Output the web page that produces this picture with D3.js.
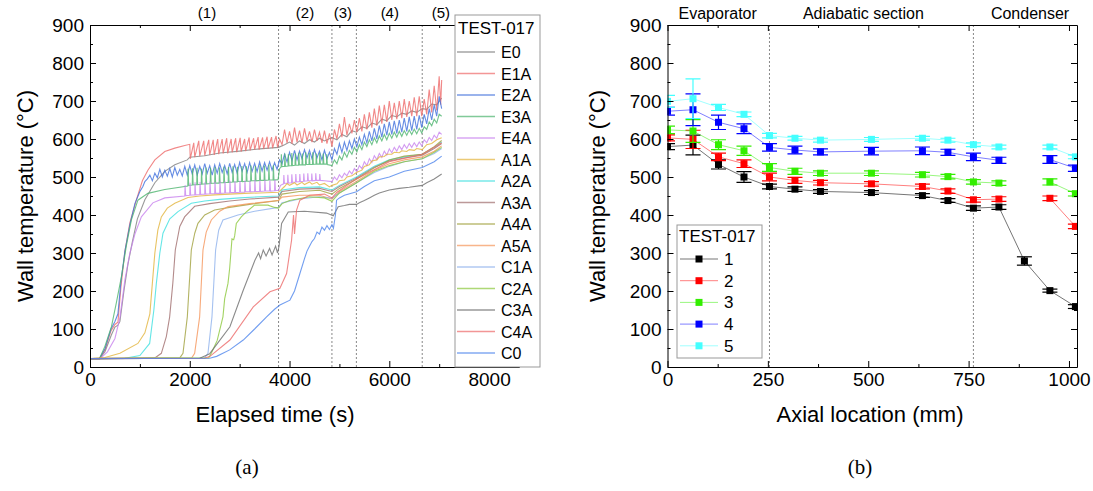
<!DOCTYPE html>
<html>
<head>
<meta charset="utf-8">
<script src="https://cdn.jsdelivr.net/npm/d3@7"></script>
<style>
  body { margin: 0; background: #fff; }
  svg { font-family: "Liberation Sans", Arial, sans-serif; }
</style>
</head>
<body>
<div id="chart"></div>
<script>
// ---------- data ----------
// left panel: [elapsed time s, wall temperature C]
const E0 = [[0,22],[190,22],[300,40],[430,85],[500,105],[560,110],[600,120],[680,200],[760,270],[850,330],[950,390],[1100,440],[1300,485],[1500,515],[1700,532],[1950,545],[2000,552],[2300,556],[2600,563],[3000,568],[3400,574],[3780,578],[3900,585],[4000,592],[4100,584],[4200,595],[4300,588],[4400,598],[4500,592],[4600,602],[4700,595],[4850,604],[4950,598],[5050,612],[5150,606],[5250,622],[5340,618],[5450,632],[5550,628],[5650,642],[5750,638],[5850,652],[5950,648],[6050,662],[6150,658],[6250,668],[6350,665],[6450,674],[6550,670],[6660,680],[6750,678],[6850,692],[6950,690],[7050,708]];
const E1A = [[0,22],[190,22],[300,45],[420,95],[500,112],[560,118],[620,210],[700,305],[800,380],[930,440],[1050,490],[1160,518],[1300,545],[1500,567],[1700,576],[1900,583],[2000,586],[2010,548],[2080,590],[2100,552],[2180,595],[2200,555],[2280,595],[2300,556],[2380,598],[2400,558],[2470,598],[2490,558],[2560,600],[2580,560],[2650,600],[2670,562],[2740,602],[2760,562],[2830,600],[2850,565],[2920,602],[2940,565],[3010,603],[3030,567],[3100,600],[3120,568],[3190,604],[3210,570],[3280,602],[3300,572],[3370,605],[3390,572],[3460,604],[3480,574],[3550,606],[3570,575],[3640,605],[3660,576],[3730,608],[3760,578],[3800,600],[3850,585],[3900,625],[3950,590],[4000,620],[4050,588],[4100,630],[4150,592],[4200,622],[4250,590],[4300,628],[4350,595],[4400,620],[4450,592],[4500,625],[4550,595],[4600,618],[4650,590],[4700,622],[4750,588],[4800,615],[4850,580],[4900,625],[4950,600],[5000,640],[5050,605],[5100,658],[5150,610],[5200,640],[5250,615],[5300,650],[5350,618],[5400,655],[5450,620],[5500,665],[5550,625],[5600,670],[5650,630],[5700,680],[5750,635],[5800,688],[5850,640],[5900,690],[5950,645],[6000,700],[6050,650],[6100,695],[6150,652],[6200,700],[6250,655],[6300,705],[6350,658],[6400,700],[6450,660],[6500,710],[6550,660],[6600,712],[6650,660],[6700,705],[6750,665],[6800,730],[6850,670],[6900,740],[6950,675],[7000,765],[7030,690],[7050,755]];
const E2A = [[0,22],[190,22],[300,48],[420,100],[500,120],[560,140],[620,225],[700,305],[800,375],[900,430],[1000,462],[1060,475],[1100,488],[1150,495],[1200,505],[1250,490],[1300,510],[1350,498],[1400,520],[1450,500],[1500,518],[1550,502],[1600,522],[1650,500],[1700,525],[1750,505],[1800,520],[1850,503],[1900,528],[1950,505],[2000,530],[2050,508],[2100,532],[2150,505],[2200,528],[2250,508],[2300,535],[2350,510],[2400,530],[2450,505],[2500,532],[2550,510],[2600,535],[2650,512],[2700,530],[2750,508],[2800,536],[2850,512],[2900,533],[2950,510],[3000,538],[3050,515],[3100,535],[3150,512],[3200,538],[3250,515],[3300,536],[3350,514],[3400,540],[3450,516],[3500,538],[3550,518],[3600,540],[3650,518],[3700,538],[3750,520],[3800,545],[3850,535],[3900,560],[3950,540],[4000,565],[4050,543],[4100,570],[4150,545],[4200,568],[4250,548],[4300,572],[4350,550],[4400,570],[4450,548],[4500,572],[4550,550],[4600,568],[4650,545],[4700,570],[4750,548],[4800,565],[4850,545],[4900,575],[4950,560],[5000,588],[5050,565],[5100,592],[5150,570],[5200,595],[5250,575],[5300,600],[5350,580],[5400,605],[5450,585],[5500,612],[5550,590],[5600,620],[5650,595],[5700,628],[5750,600],[5800,635],[5850,605],[5900,640],[5950,610],[6000,645],[6050,612],[6100,648],[6150,615],[6200,650],[6250,618],[6300,655],[6350,620],[6400,658],[6450,622],[6500,660],[6550,625],[6600,662],[6650,630],[6700,665],[6750,640],[6800,680],[6850,650],[6900,690],[6950,660],[7000,712],[7050,680]];
const E3A = [[0,22],[190,22],[300,55],[430,106],[530,170],[630,238],[730,320],[830,387],[960,439],[1160,457],[1500,467],[1960,476],[1966,522],[1978,478],[2050,479],[2056,523],[2068,479],[2140,480],[2146,524],[2158,480],[2230,481],[2236,522],[2248,481],[2320,482],[2326,525],[2338,482],[2410,483],[2416,524],[2428,483],[2500,484],[2506,526],[2518,484],[2590,484],[2596,525],[2608,485],[2680,485],[2686,527],[2698,485],[2770,486],[2776,526],[2788,486],[2860,487],[2866,528],[2878,487],[2950,487],[2956,527],[2968,488],[3040,488],[3046,529],[3058,488],[3130,489],[3136,528],[3148,489],[3220,489],[3226,530],[3238,490],[3310,490],[3316,529],[3328,490],[3400,491],[3406,531],[3418,491],[3490,491],[3496,530],[3508,491],[3580,492],[3586,532],[3598,492],[3670,492],[3676,531],[3688,492],[3770,493],[3800,522],[3830,526],[3836,560],[3848,527],[3900,528],[3906,562],[3918,528],[3970,529],[3976,560],[3988,529],[4040,530],[4046,563],[4058,530],[4110,531],[4116,562],[4128,531],[4180,531],[4186,564],[4198,532],[4250,532],[4256,562],[4268,532],[4320,532],[4326,565],[4338,533],[4390,533],[4396,563],[4408,533],[4460,533],[4466,565],[4478,533],[4530,534],[4536,562],[4548,534],[4600,534],[4606,564],[4618,534],[4670,534],[4676,562],[4688,534],[4740,534],[4746,560],[4758,533],[4850,530],[4900,545],[4950,535],[5000,555],[5050,545],[5100,565],[5150,552],[5200,570],[5250,560],[5300,578],[5350,566],[5400,585],[5450,572],[5500,592],[5550,580],[5600,598],[5650,585],[5700,603],[5750,590],[5800,608],[5850,595],[5900,612],[5950,598],[6000,615],[6050,602],[6100,618],[6150,605],[6200,620],[6250,607],[6300,622],[6350,610],[6400,624],[6450,612],[6500,626],[6550,614],[6600,628],[6650,616],[6700,632],[6750,625],[6800,645],[6850,635],[6900,652],[6950,642],[7000,665],[7050,660]];
const E4A = [[0,22],[200,22],[350,40],[500,75],[600,130],[700,230],[800,300],[900,350],[1030,395],[1260,432],[1500,445],[1900,450],[1906,478],[1918,451],[2000,452],[2006,485],[2018,452],[2100,453],[2106,486],[2118,453],[2200,454],[2206,487],[2218,454],[2300,455],[2306,486],[2318,455],[2400,456],[2406,488],[2418,456],[2500,456],[2506,487],[2518,457],[2600,457],[2606,489],[2618,457],[2700,458],[2706,488],[2718,458],[2800,458],[2806,490],[2818,459],[2900,459],[2906,489],[2918,459],[3000,460],[3006,490],[3018,460],[3100,460],[3106,491],[3118,461],[3200,461],[3206,490],[3218,461],[3300,462],[3306,492],[3318,462],[3400,462],[3406,491],[3418,462],[3500,463],[3506,492],[3518,463],[3600,463],[3606,491],[3618,463],[3700,464],[3706,492],[3718,464],[3780,465],[3820,478],[3880,482],[3886,505],[3898,483],[3960,484],[3966,506],[3978,484],[4040,485],[4046,507],[4058,486],[4120,487],[4126,508],[4138,487],[4200,488],[4206,508],[4218,488],[4280,489],[4286,509],[4298,489],[4360,490],[4366,510],[4378,490],[4440,490],[4446,509],[4458,490],[4520,491],[4526,510],[4538,491],[4600,491],[4606,508],[4618,491],[4700,490],[4850,488],[4900,500],[4950,492],[5000,506],[5050,498],[5100,510],[5150,503],[5200,516],[5250,508],[5300,522],[5350,514],[5400,530],[5450,522],[5500,540],[5550,530],[5600,548],[5650,538],[5700,556],[5750,546],[5800,562],[5850,552],[5900,568],[5950,558],[6000,574],[6050,564],[6100,578],[6150,568],[6200,582],[6250,572],[6300,585],[6350,575],[6400,588],[6450,578],[6500,590],[6550,580],[6600,592],[6650,582],[6700,598],[6750,590],[6800,604],[6850,596],[6900,610],[6950,602],[7000,618],[7050,612]];
const A1A = [[0,22],[300,25],[600,36],[960,62],[1100,90],[1200,140],[1250,220],[1300,300],[1360,360],[1430,395],[1550,418],[1700,431],[1964,446],[2200,450],[2500,453],[2800,455],[3100,457],[3400,458],[3780,460],[3900,475],[3950,483],[4000,478],[4100,485],[4150,479],[4250,486],[4300,480],[4400,487],[4450,481],[4550,486],[4600,479],[4700,483],[4800,474],[4850,478],[4950,482],[5000,490],[5100,492],[5150,500],[5250,503],[5340,512],[5450,518],[5500,528],[5600,532],[5650,542],[5750,545],[5800,553],[5900,554],[5950,560],[6050,560],[6100,565],[6200,564],[6250,569],[6350,567],[6400,572],[6500,570],[6550,575],[6660,572],[6750,585],[6850,588],[6950,598],[7050,603]];
const A2A = [[0,22],[700,23],[1000,30],[1196,62],[1280,150],[1330,220],[1400,300],[1463,352],[1600,390],[1764,409],[2031,431],[2300,437],[2600,441],[3000,445],[3400,448],[3780,450],[3850,466],[4200,472],[4600,474],[4850,466],[5000,478],[5340,500],[5700,528],[6000,545],[6300,553],[6660,560],[6900,578],[7050,592]];
const A3A = [[0,22],[1300,24],[1430,36],[1530,80],[1597,132],[1660,220],[1710,308],[1800,370],[1897,395],[2098,423],[2400,430],[2800,437],[3200,442],[3780,447],[3850,462],[4200,468],[4600,470],[4850,462],[5000,475],[5340,497],[5700,526],[6000,542],[6300,550],[6660,557],[6900,575],[7050,588]];
const A4A = [[0,22],[1800,24],[1864,36],[1951,132],[2031,308],[2100,352],[2164,378],[2300,400],[2498,413],[2800,420],[3200,428],[3780,438],[3850,455],[4200,462],[4600,465],[4850,455],[5000,470],[5340,494],[5700,524],[6000,545],[6300,555],[6660,560],[6900,580],[7050,596]];
const A5A = [[0,22],[2040,24],[2098,36],[2198,132],[2265,308],[2330,355],[2432,387],[2600,410],[2766,422],[3200,430],[3780,438],[3850,447],[4200,452],[4600,452],[4850,442],[5000,462],[5340,488],[5700,518],[6000,535],[6300,545],[6660,553],[6900,568],[7050,582]];
const C1A = [[0,22],[2300,24],[2365,36],[2445,132],[2518,308],[2580,360],[2665,387],[2966,400],[3300,410],[3780,420],[3850,432],[4200,442],[4600,448],[4850,444],[5000,458],[5340,485],[5700,512],[6000,528],[6300,540],[6660,548],[6900,562],[7050,575]];
const C2A = [[0,22],[2380,24],[2432,36],[2550,70],[2665,132],[2700,180],[2766,220],[2800,260],[2846,337],[2880,335],[2900,345],[2933,378],[3033,395],[3150,410],[3300,426],[3567,426],[3700,420],[3780,418],[3850,430],[4000,438],[4400,448],[4700,445],[4850,436],[5000,458],[5340,484],[5700,515],[6000,530],[6300,540],[6660,548],[6900,565],[7050,578]];
const C3A = [[0,22],[2200,23],[2400,35],[2805,106],[3072,202],[3306,281],[3380,300],[3420,285],[3473,308],[3530,292],[3600,312],[3650,295],[3720,318],[3760,300],[3790,318],[3841,378],[3974,408],[4300,410],[4742,405],[4876,398],[4976,422],[5100,425],[5200,428],[5344,428],[5400,432],[5500,438],[5600,445],[5700,452],[5800,458],[5900,462],[6000,466],[6200,470],[6400,473],[6660,478],[6750,485],[6900,495],[7050,508]];
const C4A = [[0,22],[2300,23],[2404,28],[2805,71],[3273,158],[3607,198],[3807,207],[3941,246],[4041,334],[4080,400],[4100,350],[4141,413],[4208,439],[4400,452],[4700,455],[4850,445],[4950,460],[5340,495],[6000,540],[6660,560],[7050,590]];
const C0 = [[0,22],[2400,23],[2538,28],[2800,45],[3072,71],[3300,100],[3540,132],[3700,152],[3807,163],[4008,176],[4100,200],[4208,246],[4300,285],[4350,305],[4400,318],[4450,330],[4500,338],[4550,355],[4600,350],[4650,368],[4700,360],[4750,372],[4800,362],[4850,375],[4880,365],[4920,400],[4943,439],[5000,445],[5100,452],[5344,461],[5500,475],[5700,490],[6000,500],[6300,515],[6660,525],[6900,540],[7050,555]];

const sensorNames = ["E0","E1A","E2A","E3A","E4A","A1A","A2A","A3A","A4A","A5A","C1A","C2A","C3A","C4A","C0"];
const sensorData = [E0,E1A,E2A,E3A,E4A,A1A,A2A,A3A,A4A,A5A,C1A,C2A,C3A,C4A,C0];
const sensorColors = ["#7f7f7f","#ee6a6a","#3f6fdc","#4cb46e","#c882ee","#e2b43c","#3fe0e0","#a06e6e","#a0a03c","#f5955a","#8fb2ec","#8cc83c","#6e6e6e","#ec6a6a","#4f86ec"];
const stageLines = [3780, 4850, 5340, 6660];
const stageLabels = ["(1)","(2)","(3)","(4)","(5)"];
const stageLabelPos = [2345, 4310, 5070, 6010, 7035];

// right panel
const axialLoc = [0, 63.5, 127, 190.5, 254, 317.5, 381, 508, 635, 698.5, 762, 825.5, 889, 952.5, 1016];
const run1 = [580, 584, 533, 500, 475, 468, 462, 459, 451, 438, 418, 421, 279, 201, 159];
const run2 = [603, 599, 553, 535, 500, 491, 485, 482, 475, 463, 440, 442, null, 444, 370];
const run3 = [624, 621, 585, 569, 525, 515, 510, 510, 506, 501, 487, 484, null, 487, 456];
const run4 = [673, 677, 644, 627, 578, 571, 566, 568, 569, 565, 553, 544, null, 546, 523];
const run5 = [699, 706, 683, 665, 609, 602, 597, 599, 602, 597, 585, 579, null, 579, 553];
const err1 = [8, 26, 12, 14, 6, 6, 5, 5, 5, 5, 6, 6, 11, 4, 5];
const err2 = [8, 24, 10, 10, 10, 8, 6, 6, 6, 6, 6, 6, null, 6, 6];
const err3 = [10, 30, 13, 12, 10, 8, 6, 6, 6, 6, 6, 6, null, 8, 6];
const err4 = [10, 42, 19, 13, 10, 10, 8, 10, 10, 8, 10, 8, null, 10, 8];
const err5 = [16, 52, 8, 6, 6, 5, 5, 5, 5, 5, 5, 5, null, 5, 5];
const runNames = ["1","2","3","4","5"];
const runColors = ["#000000","#ff0000","#33ee00","#0000ff","#44ffff"];
const sectionLines = [254, 762];
const sectionLabels = ["Evaporator","Adiabatic section","Condenser"];
const sectionLabelPos = [125, 488, 903];

// ---------- svg ----------
const svg = d3.select("#chart").append("svg")
    .attr("width", 1093).attr("height", 491);
svg.append("rect").attr("width", 1093).attr("height", 491).attr("fill", "#fff");

// frame with inward ticks on all four sides
function drawAxes(x, y, xMajor, xMinor, yMajor, yMinor) {
    const [xa, xb] = x.range();
    const [yb, ya] = y.range();
    const g = svg.append("g");
    const axes = [
        [d3.axisBottom(x).tickValues(xMajor), `translate(0,${yb})`, true],
        [d3.axisTop(x).tickValues(xMajor), `translate(0,${ya})`, false],
        [d3.axisLeft(y).tickValues(yMajor), `translate(${xa},0)`, true],
        [d3.axisRight(y).tickValues(yMajor), `translate(${xb},0)`, false]
    ];
    axes.forEach(([ax, tr, labels]) => {
        const a = g.append("g").attr("transform", tr)
            .call(ax.tickSizeInner(-6).tickSizeOuter(0).tickPadding(6).tickFormat(labels ? d3.format("d") : ""));
        a.attr("font-size", 19).attr("font-family", "Liberation Sans, Arial, sans-serif");
        a.select(".domain").attr("stroke", "#000");
    });
    [[d3.axisBottom(x).tickValues(xMinor), `translate(0,${yb})`],
     [d3.axisTop(x).tickValues(xMinor), `translate(0,${ya})`],
     [d3.axisLeft(y).tickValues(yMinor), `translate(${xa},0)`],
     [d3.axisRight(y).tickValues(yMinor), `translate(${xb},0)`]].forEach(([ax, tr]) => {
        const a = g.append("g").attr("transform", tr)
            .call(ax.tickSizeInner(-3).tickSizeOuter(0).tickFormat(""));
        a.select(".domain").remove();
    });
    return g;
}

// ---------- left panel ----------
const xL = d3.scaleLinear().domain([0, 8600]).range([90, 519]);
const yL = d3.scaleLinear().domain([0, 900]).range([367, 25]);

svg.append("clipPath").attr("id", "clipL").append("rect")
    .attr("x", 90).attr("y", 25).attr("width", 429).attr("height", 342);

const gL = svg.append("g").attr("clip-path", "url(#clipL)");
gL.selectAll(".stage").data(stageLines).enter().append("line")
    .attr("x1", d => xL(d)).attr("x2", d => xL(d))
    .attr("y1", 25).attr("y2", 367)
    .attr("stroke", "#888").attr("stroke-width", 1).attr("stroke-dasharray", "2,2");

const lineL = d3.line().x(d => xL(d[0])).y(d => yL(d[1]));
gL.selectAll(".sensor").data(sensorData).enter().append("path")
    .attr("d", d => lineL(d))
    .attr("fill", "none")
    .attr("stroke", (d, i) => sensorColors[i])
    .attr("stroke-width", 1.1)
    .attr("stroke-opacity", 0.8);

drawAxes(xL, yL, [0, 2000, 4000, 6000, 8000], [1000, 3000, 5000, 7000],
    d3.range(0, 901, 100), d3.range(50, 900, 100));

svg.selectAll(".stageLabel").data(stageLabels).enter().append("text")
    .attr("x", (d, i) => xL(stageLabelPos[i])).attr("y", 18)
    .attr("text-anchor", "middle").attr("font-size", 15).text(d => d);

// legend left
const legL = svg.append("g");
legL.append("rect").attr("x", 455).attr("y", 15).attr("width", 85).attr("height", 352)
    .attr("fill", "#fff").attr("stroke", "#999");
legL.append("text").attr("x", 458).attr("y", 34).attr("font-size", 17).text("TEST-017");
sensorNames.forEach((n, i) => {
    const yy = 52 + i * 21.5;
    legL.append("line").attr("x1", 457).attr("x2", 495).attr("y1", yy).attr("y2", yy)
        .attr("stroke", sensorColors[i]).attr("stroke-opacity", 0.7).attr("stroke-width", 1.3);
    legL.append("text").attr("x", 501).attr("y", yy + 6).attr("font-size", 16).text(n);
});

svg.append("text").attr("transform", "translate(33,196) rotate(-90)")
    .attr("text-anchor", "middle").attr("font-size", 22).text("Wall temperature (\u00B0C)");
svg.append("text").attr("x", 275).attr("y", 422)
    .attr("text-anchor", "middle").attr("font-size", 22).text("Elapsed time (s)");
svg.append("text").attr("x", 247).attr("y", 474)
    .attr("text-anchor", "middle").attr("font-size", 21)
    .attr("font-family", "Liberation Serif, serif").text("(a)");

// ---------- right panel ----------
const xR = d3.scaleLinear().domain([0, 1020]).range([667.5, 1077]);
const yR = d3.scaleLinear().domain([0, 900]).range([367, 25]);

svg.append("clipPath").attr("id", "clipR").append("rect")
    .attr("x", 667.5).attr("y", 25).attr("width", 409.5).attr("height", 342);
const gR = svg.append("g").attr("clip-path", "url(#clipR)");

gR.selectAll(".section").data(sectionLines).enter().append("line")
    .attr("x1", d => xR(d)).attr("x2", d => xR(d))
    .attr("y1", 25).attr("y2", 367)
    .attr("stroke", "#888").attr("stroke-width", 1).attr("stroke-dasharray", "2,2");

const runs = [run1, run2, run3, run4, run5];
const errs = [err1, err2, err3, err4, err5];
const lineR = d3.line().defined(d => d.v != null).x(d => xR(d.x)).y(d => yR(d.v));

runs.forEach((run, k) => {
    const pts = axialLoc.map((x, i) => ({ x: x, v: run[i], e: errs[k][i] }));
    const col = runColors[k];
    gR.append("path").attr("d", lineR(pts)).attr("fill", "none")
        .attr("stroke", k === 0 ? "#666" : col).attr("stroke-opacity", k === 0 ? 0.9 : 0.5)
        .attr("stroke-width", 1);
    const valid = pts.filter(d => d.v != null);
    const eb = gR.append("g").attr("stroke", col).attr("stroke-width", 1.2);
    valid.forEach(d => {
        const cx = xR(d.x);
        eb.append("line").attr("x1", cx).attr("x2", cx).attr("y1", yR(d.v - d.e)).attr("y2", yR(d.v + d.e));
        eb.append("line").attr("x1", cx - 7.5).attr("x2", cx + 7.5).attr("y1", yR(d.v - d.e)).attr("y2", yR(d.v - d.e));
        eb.append("line").attr("x1", cx - 7.5).attr("x2", cx + 7.5).attr("y1", yR(d.v + d.e)).attr("y2", yR(d.v + d.e));
    });
    gR.selectAll(null).data(valid).enter().append("rect")
        .attr("x", d => xR(d.x) - 3.5).attr("y", d => yR(d.v) - 3.5)
        .attr("width", 7).attr("height", 7).attr("fill", col);
});

drawAxes(xR, yR, [0, 250, 500, 750, 1000], [125, 375, 625, 875],
    d3.range(0, 901, 100), d3.range(50, 900, 100));

svg.selectAll(".sectionLabel").data(sectionLabels).enter().append("text")
    .attr("x", (d, i) => xR(sectionLabelPos[i])).attr("y", 19)
    .attr("text-anchor", "middle").attr("font-size", 16).text(d => d);

// legend right
const legR = svg.append("g");
legR.append("rect").attr("x", 677).attr("y", 225).attr("width", 85).attr("height", 133)
    .attr("fill", "#fff").attr("stroke", "#999");
legR.append("text").attr("x", 679).attr("y", 242).attr("font-size", 17).text("TEST-017");
runNames.forEach((n, i) => {
    const yy = 259 + i * 21.7;
    legR.append("line").attr("x1", 680).attr("x2", 718).attr("y1", yy).attr("y2", yy)
        .attr("stroke", i === 0 ? "#666" : runColors[i]).attr("stroke-opacity", i === 0 ? 0.9 : 0.5);
    legR.append("rect").attr("x", 695.5).attr("y", yy - 3.5).attr("width", 7).attr("height", 7)
        .attr("fill", runColors[i]);
    legR.append("text").attr("x", 724).attr("y", yy + 6).attr("font-size", 17).text(n);
});

svg.append("text").attr("transform", "translate(605,196) rotate(-90)")
    .attr("text-anchor", "middle").attr("font-size", 22).text("Wall temperature (\u00B0C)");
svg.append("text").attr("x", 870).attr("y", 422)
    .attr("text-anchor", "middle").attr("font-size", 22).text("Axial location (mm)");
svg.append("text").attr("x", 860).attr("y", 474)
    .attr("text-anchor", "middle").attr("font-size", 21)
    .attr("font-family", "Liberation Serif, serif").text("(b)");
</script>
</body>
</html>
